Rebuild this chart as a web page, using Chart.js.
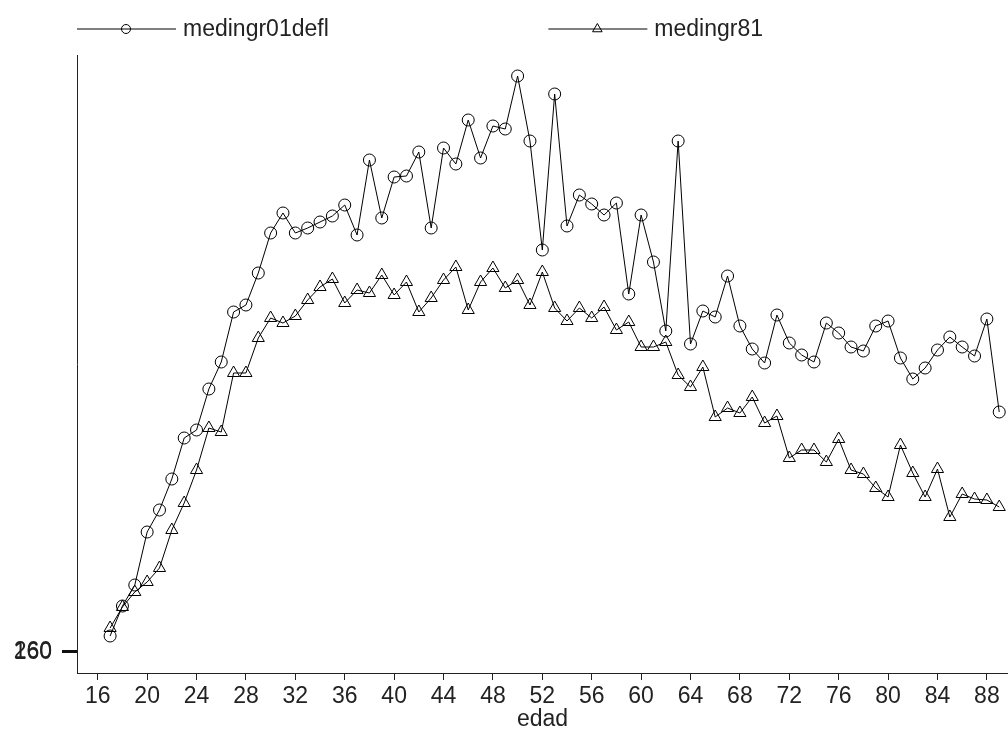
<!DOCTYPE html>
<html>
<head>
<meta charset="utf-8">
<title>medingr por edad</title>
<script src="https://cdn.jsdelivr.net/npm/chart.js@4.4.1/dist/chart.umd.min.js"></script>
<style>
  html, body { margin: 0; padding: 0; background: #fff; }
  #wrap { width: 1008px; height: 733px; position: relative; }
</style>
</head>
<body>
<div id="wrap"><canvas id="myChart"></canvas></div>
<script>
// edad (x) and the two median income series
const edad = [17, 18, 19, 20, 21, 22, 23, 24, 25, 26, 27, 28, 29, 30, 31, 32, 33, 34, 35, 36,
    37, 38, 39, 40, 41, 42, 43, 44, 45, 46, 47, 48, 49, 50, 51, 52, 53, 54, 55, 56,
    57, 58, 59, 60, 61, 62, 63, 64, 65, 66, 67, 68, 69, 70, 71, 72, 73, 74, 75, 76,
    77, 78, 79, 80, 81, 82, 83, 84, 85, 86, 87, 88, 89];

const medingr01defl = [1800, 4800, 6900, 12200, 14400, 17500, 21600, 22400, 26500, 29200,
    34200, 34900, 38100, 42100, 44100, 42100, 42600, 43200, 43800, 44900,
    41900, 49400, 43600, 47700, 47800, 50200, 42600, 50600, 49000, 53400,
    49600, 52800, 52500, 57800, 51300, 40400, 56000, 42800, 45900, 45000,
    43900, 45100, 36000, 43900, 39200, 32300, 51300, 31000, 34300, 33700,
    37800, 32800, 30500, 29100, 33900, 31100, 29900, 29200, 33100, 32100,
    30700, 30300, 32800, 33300, 29600, 27500, 28600, 30400, 31700, 30700,
    29800, 33500, 24200];

const medingr81 = [2600, 4700, 6200, 7200, 8600, 12400, 15100, 18400, 22600, 22200,
    28100, 28100, 31600, 33600, 33100, 33800, 35400, 36700, 37500, 35100,
    36400, 36100, 37900, 35900, 37200, 34200, 35600, 37400, 38700, 34400,
    37200, 38600, 36600, 37400, 34900, 38200, 34600, 33300, 34600, 33600,
    34700, 32400, 33200, 30700, 30700, 31200, 27900, 26700, 28700, 23700,
    24600, 24100, 25700, 23100, 23800, 19600, 20400, 20400, 19200, 21500,
    18400, 18000, 16600, 15700, 20900, 18100, 15700, 18500, 13700, 16000,
    15500, 15400, 14700];

const xTicks = [16, 20, 24, 28, 32, 36, 40, 44, 48, 52, 56, 60, 64, 68, 72, 76, 80, 84, 88];
const yTicks = [160, 260];

const FONT = "'Liberation Sans', Arial, sans-serif";

function toPoints(values) {
    return edad.map((e, i) => ({ x: e, y: values[i] }));
}

// legend drawn above the plot: a line with the marker in its middle, then the name
const topLegend = {
    id: 'topLegend',
    afterDraw(chart) {
        const ctx = chart.ctx;
        const starts = [chart.chartArea.left, chart.width * 0.544];
        ctx.save();
        chart.data.datasets.forEach((ds, i) => {
            const x0 = starts[i];
            const y = 29;
            ctx.strokeStyle = '#000';
            ctx.lineWidth = 1;
            ctx.beginPath();
            ctx.moveTo(x0, y);
            ctx.lineTo(x0 + 99, y);
            ctx.stroke();
            ctx.fillStyle = 'rgba(0,0,0,0)';
            Chart.helpers.drawPoint(ctx, {
                pointStyle: ds.pointStyle,
                radius: i === 0 ? 4.5 : 5.5,
                borderWidth: 1
            }, x0 + 49, y);
            ctx.fillStyle = '#222';
            ctx.font = '23px ' + FONT;
            ctx.textBaseline = 'alphabetic';
            ctx.textAlign = 'left';
            ctx.fillText(ds.label, x0 + 106, 36);
        });
        ctx.restore();
    }
};

const ctx = document.getElementById('myChart').getContext('2d');
const myChart = new Chart(ctx, {
    type: 'line',
    data: {
        datasets: [{
            label: 'medingr01defl',
            data: toPoints(medingr01defl),
            borderColor: '#000',
            borderWidth: 1,
            pointStyle: 'circle',
            pointRadius: 6,
            pointBorderColor: '#000',
            pointBackgroundColor: 'rgba(0,0,0,0)',
            pointBorderWidth: 1,
            tension: 0
        }, {
            label: 'medingr81',
            data: toPoints(medingr81),
            borderColor: '#000',
            borderWidth: 1,
            pointStyle: 'triangle',
            pointRadius: 7,
            pointBorderColor: '#000',
            pointBackgroundColor: 'rgba(0,0,0,0)',
            pointBorderWidth: 1,
            tension: 0
        }]
    },
    options: {
        responsive: true,
        maintainAspectRatio: false,
        animation: false,
        layout: {
            autoPadding: false,
            padding: { top: 55, right: 0, left: 0, bottom: 0 }
        },
        plugins: {
            legend: { display: false },
            tooltip: { enabled: false }
        },
        scales: {
            x: {
                type: 'linear',
                min: 14.32,
                max: 89.71,
                afterBuildTicks: scale => {
                    scale.ticks = xTicks.map(v => ({ value: v }));
                },
                afterFit: scale => {
                    scale.height = 60;
                    scale.paddingLeft = 0;
                    scale.paddingRight = 0;
                },
                border: { display: true, color: '#222', width: 1 },
                grid: { drawOnChartArea: false, drawTicks: true, tickLength: 7, color: '#222' },
                ticks: {
                    autoSkip: false,
                    maxRotation: 0,
                    padding: 3,
                    color: '#222',
                    font: { family: FONT, size: 23 }
                },
                title: {
                    display: true,
                    text: 'edad',
                    color: '#222',
                    padding: { top: -6, bottom: 0 },
                    font: { family: FONT, size: 23 }
                }
            },
            y: {
                type: 'linear',
                min: -1900,
                max: 59900,
                afterBuildTicks: scale => {
                    scale.ticks = yTicks.map(v => ({ value: v }));
                },
                afterFit: scale => {
                    scale.width = 77;
                    scale.paddingTop = 0;
                    scale.paddingBottom = 0;
                },
                border: { display: true, color: '#222', width: 1 },
                grid: { drawOnChartArea: false, drawTicks: true, tickLength: 15, color: '#111', lineWidth: 2 },
                ticks: {
                    autoSkip: false,
                    padding: 10,
                    color: '#222',
                    font: { family: FONT, size: 23 }
                }
            }
        }
    },
    plugins: [topLegend]
});
</script>
</body>
</html>
